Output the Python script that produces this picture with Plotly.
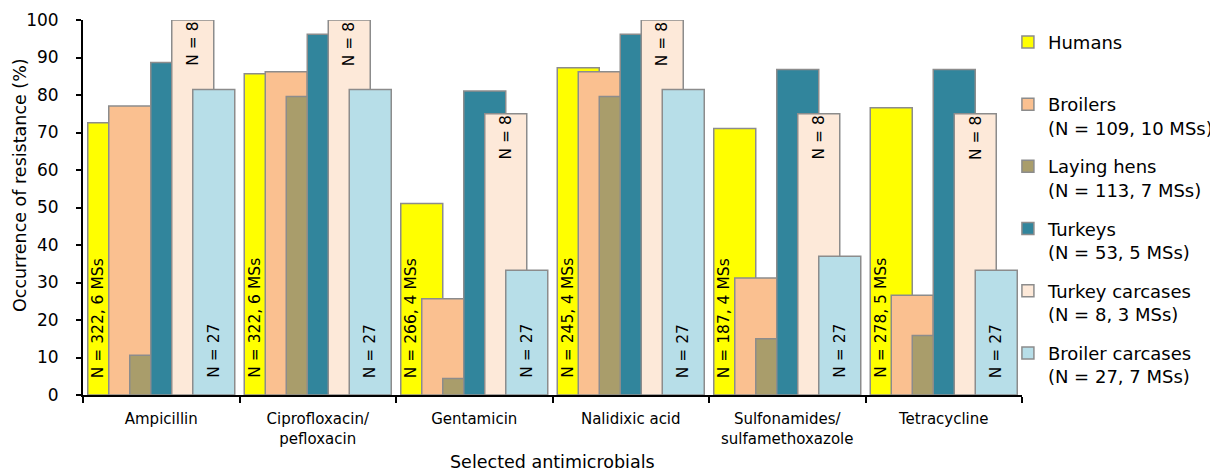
import plotly.graph_objects as go

categories = ["Ampicillin", "Ciprofloxacin/<br>pefloxacin", "Gentamicin",
              "Nalidixic acid", "Sulfonamides/<br>sulfamethoxazole", "Tetracycline"]

series_names = [
    "Humans<br>\u00a0",
    "Broilers<br>(N = 109, 10 MSs)",
    "Laying hens<br>(N = 113, 7 MSs)",
    "Turkeys<br>(N = 53, 5 MSs)",
    "Turkey carcases<br>(N = 8, 3 MSs)",
    "Broiler carcases<br>(N = 27, 7 MSs)",
]

humans = [72.6, 85.7, 51.1, 87.3, 71.1, 76.6]
broilers = [77.1, 86.2, 25.7, 86.2, 31.2, 26.6]
laying_hens = [10.6, 79.6, 4.4, 79.6, 15.0, 15.9]
turkeys = [88.7, 96.2, 81.1, 96.2, 86.8, 86.8]
turkey_carcases = [100.0, 100.0, 75.0, 100.0, 75.0, 75.0]
broiler_carcases = [81.5, 81.5, 33.3, 81.5, 37.0, 33.3]

humans_labels = ["N = 322, 6 MSs", "N = 322, 6 MSs", "N = 266, 4 MSs",
                 "N = 245, 4 MSs", "N = 187, 4 MSs", "N = 278, 5 MSs"]
turkey_carcases_labels = ["N = 8"] * 6
broiler_carcases_labels = ["N = 27"] * 6

x_title = "Selected antimicrobials"
y_title = "Occurrence of resistance (%)"

values = [humans, broilers, laying_hens, turkeys, turkey_carcases, broiler_carcases]
colors = ["#FFFF00", "#FAC090", "#A99D6B", "#31859C", "#FDE9D9", "#B7DEE8"]

FONT = "DejaVu Sans"
step = 21 / 156.5
width = 2 * step

fig = go.Figure()
for j, (name, vals, col) in enumerate(zip(series_names, values, colors)):
    center = (j - 2.5) * step
    fig.add_trace(go.Bar(
        x=categories, y=vals, name=name,
        offset=center - width / 2, width=width,
        marker=dict(color=col, line=dict(color="#8C8C8C", width=1.5)),
        legendgroup=f"g{j}",
    ))

annotations = []
for i in range(len(categories)):
    hc = i + (0 - 2.5) * step - width / 4
    annotations.append(dict(x=hc, y=0, xref="x", yref="y", text=humans_labels[i],
                            textangle=-90, showarrow=False, xanchor="center",
                            yanchor="bottom", yshift=15,
                            font=dict(family=FONT, size=15.5, color="black")))
    bc = i + (5 - 2.5) * step
    annotations.append(dict(x=bc, y=0, xref="x", yref="y", text=broiler_carcases_labels[i],
                            textangle=-90, showarrow=False, xanchor="center",
                            yanchor="bottom", yshift=15,
                            font=dict(family=FONT, size=15.5, color="black")))
    tc = i + (4 - 2.5) * step
    annotations.append(dict(x=tc, y=turkey_carcases[i], xref="x", yref="y",
                            text=turkey_carcases_labels[i],
                            textangle=-90, showarrow=False, xanchor="center",
                            yanchor="top", yshift=0,
                            font=dict(family=FONT, size=15.5, color="black")))

# axis titles
annotations.append(dict(x=-0.0671, y=0.56, xref="paper", yref="paper", text=y_title,
                        textangle=-90, showarrow=False, xanchor="center", yanchor="middle",
                        font=dict(family=FONT, size=17.5, color="black")))
annotations.append(dict(x=0.5, y=-0.179, xref="paper", yref="paper", text=x_title,
                        showarrow=False, xanchor="center", yanchor="middle",
                        font=dict(family=FONT, size=17.5, color="black")))

fig.update_layout(
    width=1218, height=473,
    barmode="overlay",
    plot_bgcolor="white", paper_bgcolor="white",
    margin=dict(l=75, r=204, t=12, b=86, autoexpand=False),
    font=dict(family=FONT, size=17, color="black"),
    annotations=annotations,
    showlegend=True,
    legend=dict(x=0.985, y=0.99, xanchor="left", yanchor="top",
                font=dict(family=FONT, size=18, color="black"),
                valign="top", traceorder="grouped", tracegroupgap=12.4,
                bgcolor="rgba(0,0,0,0)"),
    xaxis=dict(
        type="category", range=[-0.5, 5.5], automargin=False,
        tickson="boundaries", ticks="outside", ticklen=6, tickwidth=1.5,
        tickcolor="black",
        showline=True, linecolor="black", linewidth=2,
        tickfont=dict(family=FONT, size=15),
        ticklabelstandoff=9,
        showgrid=False,
    ),
    yaxis=dict(
        range=[0, 100], dtick=10, tick0=0, automargin=False,
        ticks="outside", ticklen=5, tickwidth=1.5, tickcolor="black",
        showline=True, linecolor="black", linewidth=2,
        tickfont=dict(family=FONT, size=17),
        ticklabelstandoff=14,
        showgrid=False, zeroline=False,
    ),
)

fig.write_html("out.html")
